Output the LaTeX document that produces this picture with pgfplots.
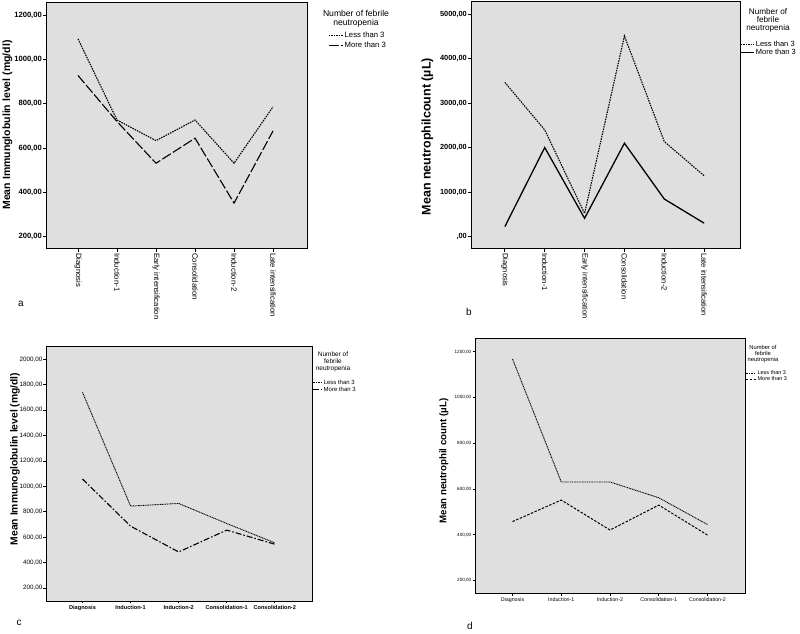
\documentclass[border=0pt]{standalone}
\usepackage{pgfplots}
\pgfplotsset{compat=1.18}
\usepackage{fontspec}
\setmainfont{Liberation Sans}
\definecolor{bg}{RGB}{223,223,223}
\newcommand{\fs}[1]{\fontsize{#1}{#1}\selectfont}
\pgfplotsset{
  spss/.style={
    scale only axis,
    axis background/.style={fill=bg},
    axis line style={line width=1pt},
    tick align=outside, tick pos=left,
    major tick length=3pt,
    tick style={black, line width=0.8pt},
    /pgf/number format/assume math mode=true,
    legend cell align=left,
    legend style={draw=none, fill=none, inner sep=0pt, outer sep=0pt,
      row sep=0pt, column sep=1pt, nodes={inner sep=0.6pt}},
    clip=false,
  },
  lessl/.style={black, line width=1.1pt, dash pattern=on 1.5pt off 1pt},
}
\pgfplotstableread{
x less more
0 1093 928
1 727 720
2 634 532
3 727 645
4 532 352
5 787 678
}\dataA
\pgfplotstableread{
x less more
0 3463 224
1 2395 2000
2 520 410
3 4507 2097
4 2134 843
5 1366 300
}\dataB
\pgfplotstableread{
x less more
0 1740 1058
1 845 687
2 866 484
3 708 656
4 556 545
}\dataC
\pgfplotstableread{
x less more
0 1168 458
1 631 552
2 631 421
3 562 530
4 445 399
}\dataD
\begin{document}
\begin{tikzpicture}[x=1pt,y=1pt]
\useasboundingbox (0pt,0pt) rectangle (800pt,634pt);
% ---------------- panel a
\begin{axis}[spss, at={(46pt,385pt)}, anchor=south west, width=261pt, height=246pt,
  xmin=-0.82, xmax=5.87, ymin=145, ymax=1255,
  xtick={0,...,5},
  xticklabels={Diagnosis,Induction-1,Early intensification,Consolidation,Induction-2,Late intensification},
  xticklabel style={rotate=-90, anchor=west, font=\fs{7.7}, inner sep=1pt},
  ytick={200,400,...,1200},
  yticklabels={{200,00},{400,00},{600,00},{800,00},{1000,00},{1200,00}},
  yticklabel style={font=\bfseries\fs{7.6}, inner sep=1pt},
  ylabel={Mean Immunglobulin level (mg/dl)},
  ylabel style={font=\bfseries\fs{10.5}, at={(axis description cs:-0.1475,0.504)}, anchor=center},
  legend style={at={(axis description cs:1.0805,0.885)}, anchor=north west, font=\fs{7.7}, row sep=2pt},
  legend image code/.code={\draw[#1] (0pt,0pt) -- (14pt,0pt);},
]
\addplot[lessl] table[x=x,y=less]{\dataA};
\addlegendentry{Less than 3}
\addplot[black, line width=1.1pt, dash pattern=on 10pt off 2.5pt] table[x=x,y=more]{\dataA};
\addlegendentry{More than 3}
\end{axis}
\node[align=center, font=\fs{8.6}, inner sep=0pt] at (356pt,615.5pt) {Number of febrile\\[0.3pt]neutropenia};
\node[font=\fs{10}, anchor=base] at (21pt,327pt) {a};
% ---------------- panel b
\begin{axis}[spss, at={(471pt,385pt)}, anchor=south west, width=269pt, height=247pt,
  xmin=-0.85, xmax=5.9, ymin=-280, ymax=5270,
  xtick={0,...,5},
  xticklabels={Diagnosis,Induction-1,Early intensification,Consolidation,Induction-2,Late intensification},
  xticklabel style={rotate=-90, anchor=west, font=\fs{7.6}, inner sep=1pt},
  ytick={0,1000,...,5000},
  yticklabels={{,00},{1000,00},{2000,00},{3000,00},{4000,00},{5000,00}},
  yticklabel style={font=\bfseries\fs{7.4}, inner sep=1pt},
  ylabel={Mean neutrophilcount (µL)},
  ylabel style={font=\bfseries\fs{12.5}, at={(axis description cs:-0.162,0.455)}, anchor=center},
  legend style={at={(axis description cs:1.0,0.845)}, anchor=north west, font=\fs{7.5}},
  legend image code/.code={\draw[#1] (0pt,0pt) -- (13pt,0pt);},
]
\addplot[lessl] table[x=x,y=less]{\dataB};
\addlegendentry{Less than 3}
\addplot[black, line width=1.3pt] table[x=x,y=more]{\dataB};
\addlegendentry{More than 3}
\end{axis}
\node[align=center, font=\fs{8.2}, inner sep=0pt] at (768pt,614pt) {Number of\\[-0.2pt]febrile\\[-0.2pt]neutropenia};
\node[font=\fs{10}, anchor=base] at (469pt,318pt) {b};
% ---------------- panel c
\begin{axis}[spss, at={(46pt,33pt)}, anchor=south west, width=266pt, height=255pt,
  xmin=-0.76, xmax=4.775, ymin=98, ymax=2105,
  axis line style={line width=0.8pt},
  major tick length=2.5pt,
  xtick={0,...,4},
  xticklabels={Diagnosis,Induction-1,Induction-2,Consolidation-1,Consolidation-2},
  xticklabel style={font=\bfseries\fs{5.6}, inner sep=1.5pt},
  ytick={200,400,...,2000},
  yticklabels={{200,00},{400,00},{600,00},{800,00},{1000,00},{1200,00},{1400,00},{1600,00},{1800,00},{2000,00}},
  yticklabel style={font=\fs{6.3}, inner sep=1pt},
  ylabel={Mean Immunoglobulin level (mg/dl)},
  ylabel style={font=\bfseries\fs{10.3}, at={(axis description cs:-0.1165,0.557)}, anchor=center},
  legend style={at={(axis description cs:1.0,0.87)}, anchor=north west, font=\fs{6}},
  legend image code/.code={\draw[#1] (0pt,0pt) -- (9pt,0pt);},
]
\addplot[black, line width=0.9pt, dash pattern=on 1pt off 0.7pt] table[x=x,y=less]{\dataC};
\addlegendentry{Less than 3}
\addplot[black, line width=1.1pt, dash pattern=on 6pt off 2pt on 1.5pt off 2pt] table[x=x,y=more]{\dataC};
\addlegendentry{More than 3}
\end{axis}
\node[align=center, font=\fs{6.5}, inner sep=0pt] at (333pt,272pt) {Number of\\[0.6pt]febrile\\[0.6pt]neutropenia};
\node[font=\fs{10}, anchor=base] at (19pt,8pt) {c};
% ---------------- panel d
\begin{axis}[spss, at={(475pt,41pt)}, anchor=south west, width=270pt, height=255pt,
  xmin=-0.77, xmax=4.77, ymin=146, ymax=1260,
  axis line style={line width=0.8pt},
  major tick length=2.5pt,
  xtick={0,...,4},
  xticklabels={Diagnosis,Induction-1,Induction-2,Consolidation-1,Consolidation-2},
  xticklabel style={font=\fs{5.3}, inner sep=1.5pt},
  ytick={200,400,...,1200},
  yticklabels={{200,00},{400,00},{600,00},{800,00},{1000,00},{1200,00}},
  yticklabel style={font=\fs{4.6}, inner sep=1pt},
  ylabel={Mean neutrophil count (µL)},
  ylabel style={font=\bfseries\fs{9.7}, at={(axis description cs:-0.115,0.518)}, anchor=center},
  legend style={at={(axis description cs:1.0,0.876)}, anchor=north west, font=\fs{5.5}},
  legend image code/.code={\draw[#1] (0pt,0pt) -- (10pt,0pt);},
]
\addplot[black, line width=0.9pt, dash pattern=on 1pt off 0.7pt] table[x=x,y=less]{\dataD};
\addlegendentry{Less than 3}
\addplot[black, line width=1pt, dash pattern=on 2.5pt off 1.5pt] table[x=x,y=more]{\dataD};
\addlegendentry{More than 3}
\end{axis}
\node[align=center, font=\fs{5.8}, inner sep=0pt] at (763pt,280pt) {Number of\\[0.6pt]febrile\\[0.6pt]neutropenia};
\node[font=\fs{10}, anchor=base] at (470pt,4pt) {d};
\end{tikzpicture}
\end{document}
